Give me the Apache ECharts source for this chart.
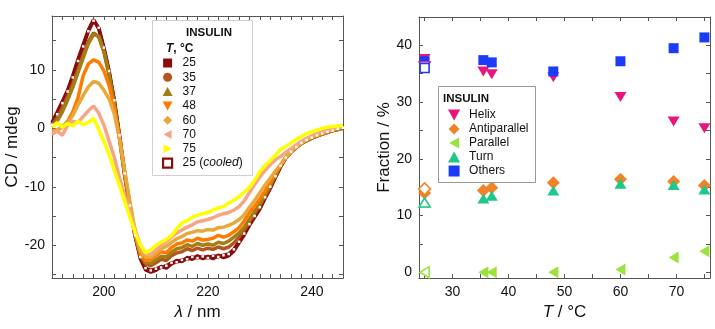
<!DOCTYPE html>
<html>
<head>
<meta charset="utf-8">
<script src="https://cdn.jsdelivr.net/npm/echarts@6.0.0/dist/echarts.min.js"></script>
<style>
  html, body { margin: 0; padding: 0; background: #fff; }
  #main { width: 715px; height: 329px; }
</style>
</head>
<body>
<div id="main"></div>
<script>
var FONT = '"Liberation Sans", Arial, sans-serif';

// ---- left panel: CD spectra (mdeg) vs wavelength ----
var nm = [190, 191, 192, 193, 194, 195, 196, 197, 198, 199,
  200, 201, 202, 203, 204, 205, 206, 207, 208, 209,
  210, 211, 212, 213, 214, 215, 216, 217, 218, 219,
  220, 221, 222, 223, 224, 225, 226, 227, 228, 229,
  230, 231, 232, 233, 234, 235, 236, 237, 238, 239,
  240, 241, 242, 243, 244, 245, 246];

var cd25 = [1.0, 2.8, 4.6, 6.5, 9.0, 11.8, 14.3, 16.8, 18.6, 17.0,
  13.5, 9.5, 4.5, -1.5, -8.0, -13.5, -18.5, -22.3, -24.2, -24.6,
  -24.3, -23.6, -23.9, -23.2, -22.6, -22.8, -22.1, -22.4, -21.8, -22.3,
  -21.9, -22.3, -21.7, -22.1, -21.8, -21.0, -19.6, -18.2, -16.6, -15.2,
  -13.8, -12.0, -10.3, -8.4, -6.6, -5.1, -4.1, -3.3, -2.6, -2.1,
  -1.7, -1.3, -1.0, -0.7, -0.4, -0.2, 0.0];
var cd25cooled = [0.6, 2.4, 4.3, 6.3, 8.7, 11.5, 14.0, 16.6, 18.4, 17.2,
  13.8, 9.8, 4.8, -1.2, -7.7, -13.2, -18.3, -22.0, -23.9, -24.3,
  -24.0, -23.8, -23.5, -23.0, -22.9, -22.5, -22.4, -22.0, -22.2, -21.9,
  -22.2, -21.8, -22.0, -21.7, -21.5, -20.7, -19.4, -18.0, -16.4, -15.0,
  -13.5, -11.8, -10.0, -8.2, -6.4, -5.0, -4.0, -3.2, -2.5, -2.0,
  -1.6, -1.2, -0.9, -0.6, -0.4, -0.1, 0.1];
var cd35 = [0.5, 1.8, 3.5, 5.5, 7.6, 10.0, 12.5, 14.8, 16.3, 15.6,
  13.0, 9.0, 4.0, -1.8, -8.3, -13.6, -18.4, -21.8, -23.2, -23.5,
  -23.0, -22.4, -22.6, -21.8, -21.3, -21.1, -20.6, -20.9, -20.5, -20.8,
  -20.5, -20.7, -20.3, -20.6, -20.3, -19.6, -18.6, -17.4, -16.0, -14.6,
  -13.2, -11.6, -9.9, -8.1, -6.4, -5.0, -4.0, -3.2, -2.6, -2.1,
  -1.7, -1.3, -1.0, -0.7, -0.4, -0.2, 0.1];
var cd37 = [0.2, 1.2, 2.8, 4.8, 7.0, 9.5, 12.0, 14.5, 16.0, 15.8,
  13.2, 9.2, 4.2, -1.6, -8.0, -13.4, -18.2, -21.6, -22.9, -23.1,
  -22.5, -21.9, -22.0, -21.2, -20.6, -20.4, -19.9, -20.2, -19.7, -20.0,
  -19.8, -20.0, -19.5, -19.7, -19.3, -18.6, -17.9, -16.9, -15.5, -14.2,
  -12.9, -11.4, -9.8, -8.0, -6.3, -5.0, -4.0, -3.2, -2.6, -2.1,
  -1.7, -1.3, -1.0, -0.7, -0.4, -0.2, 0.1];
var cd48 = [-0.5, -0.3, 0.2, 1.2, 2.8, 5.2, 9.0, 11.0, 11.7, 11.3,
  9.8, 7.3, 3.5, -1.6, -7.6, -13.0, -18.0, -21.4, -22.6, -22.4,
  -21.8, -21.1, -21.3, -20.4, -19.8, -19.6, -19.1, -19.3, -18.8, -19.1,
  -19.0, -18.8, -18.3, -18.6, -18.3, -17.7, -17.0, -15.8, -14.4, -13.3,
  -12.1, -10.7, -9.2, -7.7, -6.3, -5.0, -4.0, -3.2, -2.5, -2.0,
  -1.6, -1.2, -0.9, -0.6, -0.3, -0.1, 0.2];
var cd60 = [-0.5, -0.3, 0.3, 1.0, 2.2, 4.0, 5.6, 7.1, 8.0, 7.7,
  6.5, 5.0, 2.4, -1.9, -7.3, -12.6, -17.6, -21.0, -22.0, -22.0,
  -21.4, -20.6, -20.2, -19.5, -18.9, -18.5, -18.0, -17.8, -17.5, -17.6,
  -17.3, -17.4, -17.0, -16.9, -16.6, -16.2, -15.6, -14.8, -13.5, -12.3,
  -11.0, -9.7, -8.5, -7.3, -6.2, -5.0, -4.0, -3.2, -2.5, -1.9,
  -1.5, -1.1, -0.8, -0.5, -0.2, 0.0, 0.3];
var cd70 = [-1.0, -0.5, -1.2, 0.5, 1.2, 1.0, 2.0, 3.0, 3.8, 2.6,
  0.5, -2.2, -5.0, -8.5, -11.5, -14.2, -17.3, -20.0, -21.5, -21.6,
  -20.8, -20.0, -19.4, -18.6, -17.9, -17.4, -16.9, -16.5, -16.0, -15.8,
  -15.6, -15.3, -14.9, -14.6, -14.4, -14.0, -13.4, -12.4, -11.0, -9.6,
  -8.3, -7.2, -6.2, -5.4, -4.8, -4.1, -3.5, -2.8, -2.2, -1.7,
  -1.3, -0.9, -0.6, -0.3, -0.1, 0.1, 0.3];
var cd75 = [0.2, 1.0, 0.2, 0.8, 0.4, 1.2, 0.6, 1.0, 1.7, -0.2,
  -2.3, -4.5, -7.2, -9.8, -12.5, -15.2, -17.8, -19.9, -21.3, -20.8,
  -20.0, -19.5, -19.0, -18.4, -17.2, -16.2, -15.8, -15.2, -14.9, -14.6,
  -14.4, -14.0, -13.6, -13.4, -12.8, -12.3, -11.7, -10.9, -10.1, -8.9,
  -7.4, -6.4, -5.5, -4.6, -3.6, -3.1, -2.5, -1.9, -1.4, -0.9,
  -0.6, -0.3, 0.0, 0.2, 0.3, 0.4, 0.5];

var nmLabels = [200, 220, 240];
var nmTicks = [192, 194, 196, 198, 200, 202, 204, 206, 208, 210, 212, 214, 216, 218,
  220, 222, 224, 226, 228, 230, 232, 234, 236, 238, 240, 242, 244];
var cdLabels = [-20, -10, 0, 10];
var cdTicks = [-25, -20, -15, -10, -5, 0, 5, 10, 15];

// ---- right panel: secondary structure fractions (%) vs temperature ----
var temps = [25, 35.5, 37, 48, 60, 69.5, 75];
var helix = [37.6, 35.4, 34.9, 34.4, 30.9, 26.6, 25.4];
var antiparallel = [14.0, 14.4, 14.9, 15.8, 16.4, 16.0, 15.3];
var parallel = [0, 0, 0, 0, 0.5, 2.6, 3.7];
var turn = [12.3, 13.0, 13.5, 14.4, 15.6, 15.4, 14.6];
var others = [37.2, 37.4, 37.0, 35.4, 37.2, 39.5, 41.4];
// 25 degC after cooling (open symbols)
var cooledT = 25;
var helixCooled = 36.3;
var antiCooled = 14.7;
var parallelCooled = 0;
var turnCooled = 12.3;
var othersCooled = 36.0;

var tLabels = [30, 40, 50, 60, 70];
var tTicks = [25, 30, 35, 40, 45, 50, 55, 60, 65, 70, 75];
var fLabels = [0, 10, 20, 30, 40];
var fTicks = [0, 5, 10, 15, 20, 25, 30, 35, 40];

var DOWN = 'path://M0,0L10,0L5,9Z';
var UP = 'path://M5,0L10,9L0,9Z';
var LEFT = 'path://M9,0L9,10L0,5Z';
var RIGHT = 'path://M0,0L9,5L0,10Z';
var SQUARE = 'path://M0,0L10,0L10,10L0,10Z';
var DIAMOND = 'path://M5,0L10,5L5,10L0,5Z';

var spectra = [
  { name: '25', data: cd25, color: '#8b0c0c', icon: SQUARE },
  { name: '25 (cooled)', data: cd25cooled, color: '#8b0c0c', icon: SQUARE, cooled: true },
  { name: '35', data: cd35, color: '#b0581e', icon: 'circle' },
  { name: '37', data: cd37, color: '#a27e14', icon: UP },
  { name: '48', data: cd48, color: '#ff7a00', icon: DOWN },
  { name: '60', data: cd60, color: '#e8a83a', icon: DIAMOND },
  { name: '70', data: cd70, color: '#f6a585', icon: LEFT },
  { name: '75', data: cd75, color: '#ffff00', icon: RIGHT }
];
var legendOrder = ['25', '35', '37', '48', '60', '70', '75', '25 (cooled)'];

function pairs(xs, ys) {
  return xs.map(function (x, i) { return [x, ys[i]]; });
}

var axisColor = '#555';
function frameAxis(extra) {
  var base = {
    axisLine: { show: true, onZero: false, lineStyle: { color: axisColor, width: 1 } },
    axisTick: { show: true, inside: true, length: 4, lineStyle: { color: axisColor } },
    axisLabel: { show: false },
    splitLine: { show: false }
  };
  return Object.assign(base, extra);
}
function labelStyle(vals) {
  return { show: true, customValues: vals, color: '#111', fontSize: 14, fontFamily: FONT, margin: 7 };
}

var series = [];
spectra.forEach(function (s) {
  series.push({
    name: s.name,
    type: 'line',
    xAxisIndex: 0,
    yAxisIndex: 0,
    data: pairs(nm, s.data),
    showSymbol: !!s.cooled,
    showAllSymbol: true,
    symbol: 'rect',
    symbolSize: 2.5,
    itemStyle: s.cooled ? { color: '#fff', borderWidth: 0 } : { color: s.color },
    lineStyle: { color: s.color, width: 3.5 },
    animation: false,
    z: 2
  });
});

function scatter(name, ys, color, symbol, size) {
  return {
    name: name, type: 'scatter', xAxisIndex: 2, yAxisIndex: 2,
    data: pairs(temps, ys), symbol: symbol, symbolSize: size,
    itemStyle: { color: color, opacity: 1 }, animation: false, z: 3
  };
}
function openPoint(name, y, color, symbol, size) {
  return {
    name: name, type: 'scatter', xAxisIndex: 2, yAxisIndex: 2,
    data: [[cooledT, y]], symbol: symbol, symbolSize: size,
    itemStyle: { color: '#fff', borderColor: color, borderWidth: 1.6, opacity: 1 },
    animation: false, z: 4
  };
}
series.push(scatter('Helix', helix, '#e8157c', DOWN, [12, 10]));
series.push(scatter('Antiparallel', antiparallel, '#f08228', DIAMOND, 13));
series.push(scatter('Parallel', parallel, '#9be23c', LEFT, [10, 12]));
series.push(scatter('Turn', turn, '#1ec88a', UP, [12, 10]));
series.push(scatter('Others', others, '#1b3cf7', SQUARE, 10));
series.push(openPoint('Helix c', helixCooled, '#e8157c', DOWN, [11, 9]));
series.push(openPoint('Antiparallel c', antiCooled, '#f08228', DIAMOND, 12));
series.push(openPoint('Parallel c', parallelCooled, '#9be23c', LEFT, [9, 11]));
series.push(openPoint('Turn c', turnCooled, '#1ec88a', UP, [11, 9]));
series.push(openPoint('Others c', othersCooled, '#1b3cf7', SQUARE, 9));

var myChart = echarts.init(document.getElementById('main'), null, { renderer: 'canvas' });

var option = {
  backgroundColor: '#fff',
  animation: false,
  textStyle: { fontFamily: FONT },
  grid: [
    { left: 52, top: 16, width: 291, height: 262, show: false },
    { left: 419, top: 17, width: 291, height: 261, show: false }
  ],
  xAxis: [
    frameAxis({
      type: 'value', gridIndex: 0, position: 'bottom', min: 190, max: 246,
      axisTick: { show: true, inside: true, length: 4, customValues: nmTicks, lineStyle: { color: axisColor } },
      axisLabel: labelStyle(nmLabels),
      name: '{i|λ} / nm', nameLocation: 'middle', nameGap: 24,
      nameTextStyle: { fontSize: 17, color: '#111', fontFamily: FONT,
        rich: { i: { fontStyle: 'italic', fontSize: 17, fontFamily: FONT, color: '#111' } } }
    }),
    frameAxis({
      type: 'value', gridIndex: 0, position: 'top', min: 190, max: 246,
      axisTick: { show: true, inside: true, length: 4, customValues: nmTicks, lineStyle: { color: axisColor } }
    }),
    frameAxis({
      type: 'value', gridIndex: 1, position: 'bottom', min: 24, max: 76,
      axisTick: { show: true, inside: true, length: 4, customValues: tTicks, lineStyle: { color: axisColor } },
      axisLabel: labelStyle(tLabels),
      name: '{i|T} / °C', nameLocation: 'middle', nameGap: 24,
      nameTextStyle: { fontSize: 17, color: '#111', fontFamily: FONT,
        rich: { i: { fontStyle: 'italic', fontSize: 17, fontFamily: FONT, color: '#111' } } }
    }),
    frameAxis({
      type: 'value', gridIndex: 1, position: 'top', min: 24, max: 76,
      axisTick: { show: true, inside: true, length: 4, customValues: tTicks, lineStyle: { color: axisColor } }
    })
  ],
  yAxis: [
    frameAxis({
      type: 'value', gridIndex: 0, position: 'left', min: -25.6, max: 19.2,
      axisTick: { show: true, inside: true, length: 4, customValues: cdTicks, lineStyle: { color: axisColor } },
      axisLabel: labelStyle(cdLabels),
      name: 'CD / mdeg', nameLocation: 'middle', nameGap: 25,
      nameTextStyle: { fontSize: 17, color: '#111', fontFamily: FONT }
    }),
    frameAxis({
      type: 'value', gridIndex: 0, position: 'right', min: -25.6, max: 19.2,
      axisTick: { show: true, inside: true, length: 4, customValues: cdTicks, lineStyle: { color: axisColor } }
    }),
    frameAxis({
      type: 'value', gridIndex: 1, position: 'left', min: -1, max: 45,
      axisTick: { show: true, inside: true, length: 4, customValues: fTicks, lineStyle: { color: axisColor } },
      axisLabel: labelStyle(fLabels),
      name: 'Fraction / %', nameLocation: 'middle', nameGap: 25,
      nameTextStyle: { fontSize: 17, color: '#111', fontFamily: FONT }
    }),
    frameAxis({
      type: 'value', gridIndex: 1, position: 'right', min: -1, max: 45,
      axisTick: { show: true, inside: true, length: 4, customValues: fTicks, lineStyle: { color: axisColor } }
    })
  ],
  graphic: [
    { type: 'rect', left: 152, top: 20, shape: { width: 100, height: 155 },
      style: { fill: '#fff', stroke: '#d0d0d0', lineWidth: 1 }, z: 5 },
    { type: 'rect', left: 438, top: 86, shape: { width: 97, height: 96 },
      style: { fill: '#fff', stroke: '#999', lineWidth: 1 }, z: 5 }
  ],
  title: [
    { text: 'INSULIN', left: 186, top: 27, padding: 0, z: 10,
      textStyle: { fontSize: 11.5, fontWeight: 'bold', color: '#111', fontFamily: FONT } },
    { text: '{b|T}, °C', left: 166, top: 43, padding: 0, z: 10,
      textStyle: { fontSize: 12, color: '#111', fontFamily: FONT,
        rich: { b: { fontStyle: 'italic', fontWeight: 'bold', fontSize: 12, color: '#111', fontFamily: FONT } } } },
    { text: 'INSULIN', left: 443, top: 93, padding: 0, z: 10,
      textStyle: { fontSize: 11.5, fontWeight: 'bold', color: '#111', fontFamily: FONT } }
  ],
  legend: [
    {
      orient: 'vertical', left: 162, top: 57, padding: 0,
      itemWidth: 20, itemHeight: 9, itemGap: 2.3, z: 10,
      selectedMode: false, symbolKeepAspect: true,
      data: legendOrder.map(function (n) {
        var s = spectra.filter(function (t) { return t.name === n; })[0];
        var item = { name: n, icon: s.icon, itemStyle: { color: s.color, borderWidth: 0 } };
        if (s.cooled) item.itemStyle = { color: '#fff', borderColor: s.color, borderWidth: 2.2 };
        return item;
      }),
      formatter: function (name) {
        return name === '25 (cooled)' ? '25 ({i|cooled})' : name;
      },
      textStyle: { fontSize: 12, lineHeight: 12, color: '#111', fontFamily: FONT,
        rich: { i: { fontStyle: 'italic', fontSize: 12, lineHeight: 12, color: '#111', fontFamily: FONT } } }
    },
    {
      orient: 'vertical', left: 448, top: 109, padding: 0,
      itemWidth: 20, itemHeight: 11, itemGap: 2, z: 10,
      selectedMode: false, symbolKeepAspect: true,
      data: ['Helix', 'Antiparallel', 'Parallel', 'Turn', 'Others'],
      textStyle: { fontSize: 12, lineHeight: 12, color: '#111', fontFamily: FONT }
    }
  ],
  series: series
};

option && myChart.setOption(option);
</script>
</body>
</html>
